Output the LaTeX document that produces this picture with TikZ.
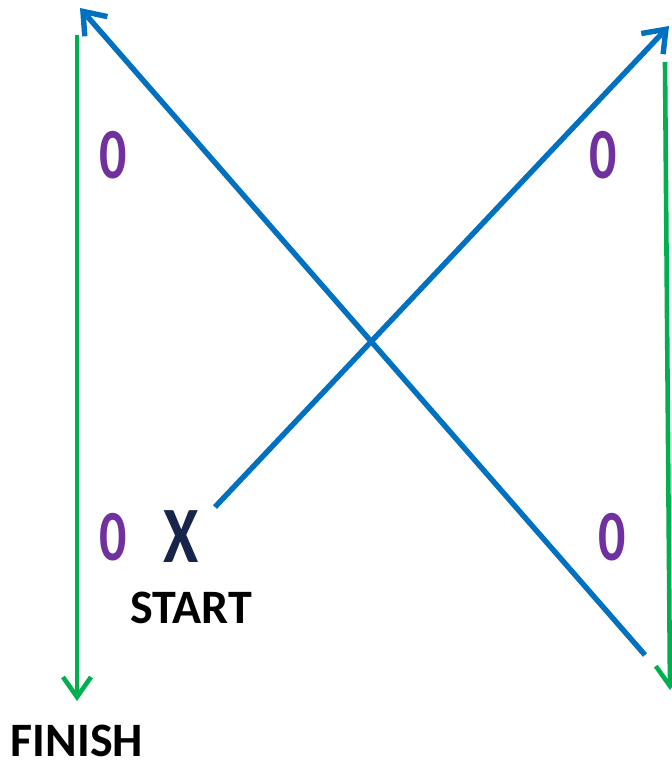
\documentclass[tikz,border=0pt]{standalone}
\usepackage{fontspec}
\setmainfont{Carlito}
\usetikzlibrary{arrows.meta}
\definecolor{cblue}{HTML}{0070C0}
\definecolor{cgreen}{HTML}{00B050}
\definecolor{cpurple}{HTML}{7030A0}
\definecolor{cnavy}{HTML}{17254A}
\begin{document}
\begin{tikzpicture}[x=1pt,y=-1pt,
  bluearrow/.style={draw=cblue,line width=5.4pt,-{Straight Barb[length=20pt,width=30pt]}},
  greenarrow/.style={draw=cgreen,line width=4.6pt,-{Straight Barb[length=20pt,width=28pt]}},
  zero/.style={text=cpurple,font=\fontsize{72}{72}\bfseries,inner sep=0pt,xscale=0.75},
  lbl/.style={text=black,font=\fontsize{48}{48}\bfseries,inner sep=0pt}]
\useasboundingbox (0,0) rectangle (672,766);
\clip (0,0) rectangle (672,766);
\coordinate (b1s) at (645,655);
\coordinate (b1e) at (80,8);
\coordinate (b2s) at (215,507);
\coordinate (b2e) at (669,26);
\coordinate (g1s) at (77,35);
\coordinate (g1e) at (77,701);
\coordinate (g2s) at (665,62);
\coordinate (g2e) at (670,690);
\draw[greenarrow] (g1s) -- (g1e);
\draw[greenarrow] (g2s) -- (g2e);
\draw[bluearrow] (b1s) -- (b1e);
\draw[bluearrow] (b2s) -- (b2e);
\node[zero] (z1) at (113,155) {0};
\node[zero] (z2) at (603,155) {0};
\node[zero] (z3) at (113,537) {0};
\node[zero] (z4) at (612,537) {0};
\node[text=cnavy,font=\fontsize{80}{80}\bfseries,inner sep=0pt,xscale=0.8] (x) at (181,537) {X};
\node[lbl] (start) at (191,608) {START};
\node[lbl] (finish) at (77,741) {FINISH};
\end{tikzpicture}
\end{document}
